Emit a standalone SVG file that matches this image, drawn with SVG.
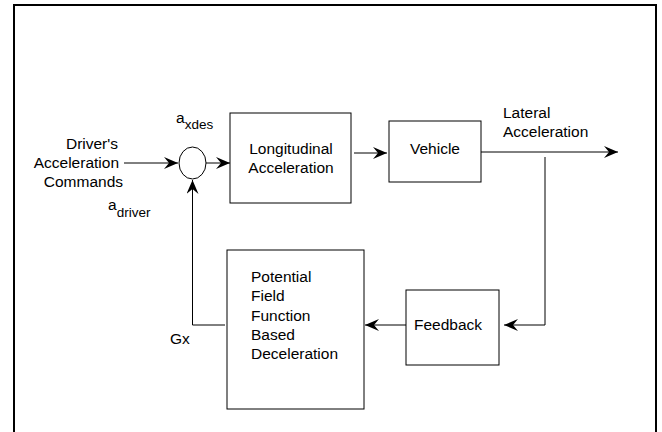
<svg xmlns="http://www.w3.org/2000/svg" width="662" height="432" viewBox="0 0 662 432">
<style>
text{font-family:"Liberation Sans",Arial,sans-serif;font-size:15.5px;fill:#000}
.sub{font-size:13.5px}
.box{fill:#fff;stroke:#000;stroke-width:1}
.ln{fill:none;stroke:#000;stroke-width:1}
</style>
<defs>
<marker id="ah" markerWidth="15" markerHeight="12" refX="14" refY="6" orient="auto" markerUnits="userSpaceOnUse">
<path d="M0,0 L14,6 L0,12 L5,6 Z" fill="#000"/>
</marker>
</defs>
<rect width="662" height="432" fill="#fff"/>
<path d="M14,432 V5 H656 V432" fill="none" stroke="#000" stroke-width="2"/>
<g id="input-label">
<text x="118" y="149" text-anchor="end">Driver's</text>
<text x="119" y="168" text-anchor="end">Acceleration</text>
<text x="123" y="187" text-anchor="end">Commands</text>
<text x="108" y="210">a<tspan class="sub" dy="7">driver</tspan></text>
</g>
<g id="sum">
<ellipse cx="192.5" cy="163" rx="13.5" ry="16" class="box"/>
<text x="176" y="123">a<tspan class="sub" dy="6">xdes</tspan></text>
</g>
<g id="longitudinal">
<rect x="230" y="113" width="121" height="90" class="box"/>
<text x="291" y="154" text-anchor="middle">Longitudinal</text>
<text x="291" y="173" text-anchor="middle">Acceleration</text>
</g>
<g id="vehicle">
<rect x="389" y="121" width="92" height="61" class="box"/>
<text x="435" y="154" text-anchor="middle">Vehicle</text>
</g>
<g id="output-label">
<text x="503" y="118">Lateral</text>
<text x="503" y="137">Acceleration</text>
</g>
<g id="feedback">
<rect x="406" y="290" width="93" height="75" class="box"/>
<text x="414" y="330">Feedback</text>
</g>
<g id="potential-field">
<rect x="227" y="250" width="137" height="159" class="box"/>
<text x="251" y="282">Potential</text>
<text x="251" y="301">Field</text>
<text x="251" y="321">Function</text>
<text x="251" y="340">Based</text>
<text x="251" y="359">Deceleration</text>
</g>
<g id="gx-label">
<text x="170" y="344">Gx</text>
</g>
<g id="connectors">
<line x1="124" y1="163" x2="178" y2="163" class="ln" marker-end="url(#ah)"/>
<line x1="206" y1="163" x2="230" y2="163" class="ln" marker-end="url(#ah)"/>
<line x1="354" y1="153" x2="387" y2="153" class="ln" marker-end="url(#ah)"/>
<line x1="481" y1="152" x2="618" y2="152" class="ln" marker-end="url(#ah)"/>
<polyline points="545,157 545,325 504,325" class="ln" marker-end="url(#ah)"/>
<line x1="406" y1="325" x2="365" y2="325" class="ln" marker-end="url(#ah)"/>
<polyline points="225,325 192.5,325 192.5,180" class="ln" marker-end="url(#ah)"/>
</g>
</svg>
